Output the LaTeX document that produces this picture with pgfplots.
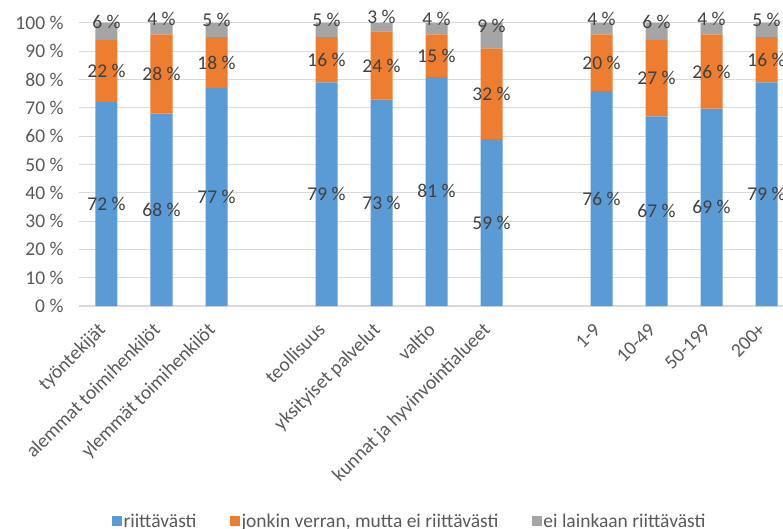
\documentclass[border=0pt]{standalone}
\usepackage{fontspec}
\setmainfont{Carlito}
\usepackage{pgfplots}
\usepackage{pgfplotstable}
\pgfplotsset{compat=1.18}
\definecolor{cblue}{HTML}{5B9BD5}
\definecolor{corange}{HTML}{ED7D31}
\definecolor{cgrey}{HTML}{A5A5A5}
\definecolor{gridc}{HTML}{D9D9D9}
\definecolor{tickc}{HTML}{595959}
\definecolor{labc}{HTML}{404040}
\newcommand{\fsz}{\fontsize{19.5bp}{23bp}\selectfont}

% heights (a,b,c) and printed labels (la,lb,lc)
\pgfplotstableread{
x a b c la lb lc
0 72 22 6 72 22 6
1 68 28 4 68 28 4
2 77 18 5 77 18 5
4 79 16 5 79 16 5
5 73 24 3 73 24 3
6 81 15 4 81 15 4
7 59 32 9 59 32 9
9 76 20 4 76 20 4
10 67 27 6 67 27 6
11 69.7 26.3 4.0 69 26 4
12 79 16 5 79 16 5
}\data

\begin{document}
\begin{tikzpicture}[font=\fsz]
\begin{axis}[
  at={(0,0)}, anchor=south west,
  scale only axis, width=715bp, height=283bp,
  ybar stacked, bar width=22bp,
  xmin=-0.5, xmax=12.5, ymin=0, ymax=100,
  axis x line*=bottom, axis y line*=left,
  x axis line style={draw=gridc, line width=1.2bp},
  y axis line style={draw=none},
  major tick length=0pt,
  ytick={0,10,...,100},
  ymajorgrids, grid style={draw=gridc, line width=1bp},
  yticklabel={\pgfmathprintnumber[assume math mode=true]{\tick}\ \%},
  yticklabel style={font=\fsz, text=tickc, xshift=-12bp},
  xtick={0,1,2,4,5,6,7,9,10,11,12},
  xticklabels={työntekijät, alemmat toimihenkilöt, ylemmät toimihenkilöt, teollisuus, yksityiset palvelut, valtio, kunnat ja hyvinvointialueet, 1-9, 10-49, 50-199, 200+},
  xticklabel style={font=\fsz, text=tickc, yshift=-25bp, xshift=0bp, rotate=45, anchor=base east, inner sep=0pt},
  legend style={at={(0.4622,-0.76)}, anchor=center, draw=none, fill=none, legend columns=-1, text=tickc, font=\fsz,
    nodes={inner sep=1.5bp},
    /tikz/every odd column/.append style={column sep=0bp},
    /tikz/every even column/.append style={column sep=32bp}},
  legend image code/.code={\path[#1, draw=none] (0bp,-5bp) rectangle (10bp,5bp);},
  point meta=explicit symbolic,
  nodes near coords={\pgfplotspointmeta\ \%},
  every node near coord/.append style={font=\fsz, text=labc, anchor=center},
]
\addplot[fill=cblue, draw=none] table[x=x,y=a,meta=la]{\data};
\addplot[fill=corange, draw=none] table[x=x,y=b,meta=lb]{\data};
\addplot[fill=cgrey, draw=none, every node near coord/.append style={yshift=10bp}] table[x=x,y=c,meta=lc]{\data};
\legend{riittävästi, {jonkin verran, mutta ei riittävästi}, ei lainkaan riittävästi}
\end{axis}
\pgfresetboundingbox
\path[use as bounding box] (-79bp,-223bp) rectangle (704bp,306bp);
\end{tikzpicture}
\end{document}
